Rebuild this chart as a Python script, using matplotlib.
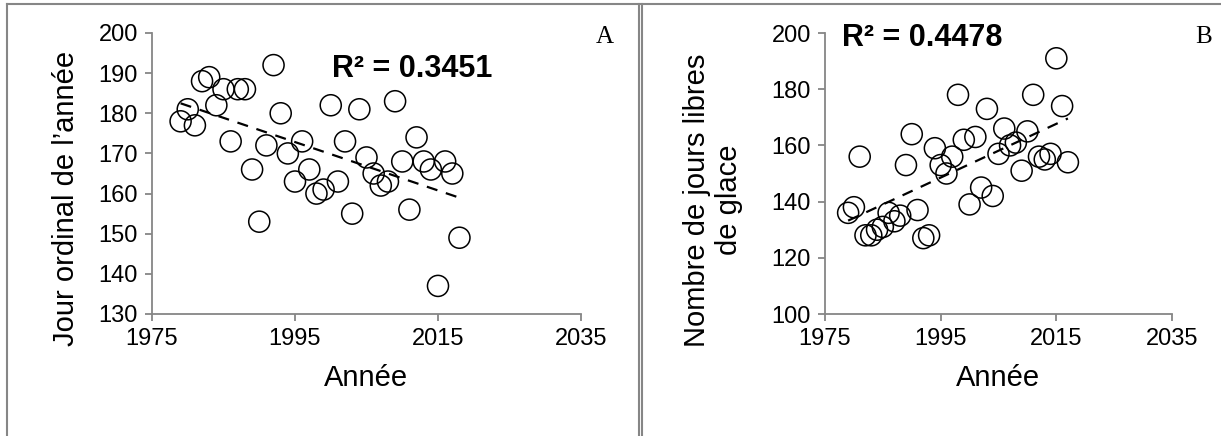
import matplotlib
matplotlib.use("Agg")
import matplotlib.pyplot as plt
from matplotlib.lines import Line2D
import numpy as np

plt.rcParams['font.family'] = ['Liberation Sans', 'DejaVu Sans']

# panel A : jour ordinal (debacle)
years_a = list(range(1979, 2019))
jour_a = [178, 181, 177, 188, 189, 182, 186, 173, 186, 186,
          166, 153, 172, 192, 180, 170, 163, 173, 166, 160,
          161, 182, 163, 173, 155, 181, 169, 165, 162, 163,
          183, 168, 156, 174, 168, 166, 137, 168, 165, 149]

# panel B : nombre de jours libres de glace
years_b = list(range(1979, 2018))
libres_b = [136, 138, 156, 128, 128, 130, 131, 136, 133, 135,
            153, 164, 137, 127, 128, 159, 153, 150, 156, 178,
            162, 139, 163, 145, 173, 142, 157, 166, 160, 161,
            151, 165, 178, 156, 155, 157, 191, 174, 154]

xticks = [1975, 1995, 2015, 2035]
r2_a = "R² = 0.3451"
r2_b = "R² = 0.4478"

W, H = 1221, 436
fig = plt.figure(figsize=(W/100, H/100), dpi=100)

gray = '#868686'

def make_ax(rect, x, y, ylim, yticks):
    ax = fig.add_axes(rect)
    ax.scatter(x, y, s=230, facecolors='none', edgecolors='black', linewidths=1.1, zorder=3)
    # tendance lineaire
    p = np.polyfit(x, y, 1)
    xx = np.array([min(x), max(x)])
    ax.plot(xx, np.polyval(p, xx), color='black', lw=1.6, ls=(0, (5, 4)), zorder=2)
    ax.set_xlim(1975, 2035)
    ax.set_ylim(*ylim)
    ax.set_xticks(xticks)
    ax.set_yticks(yticks)
    for s in ['top', 'right']:
        ax.spines[s].set_visible(False)
    for s in ['left', 'bottom']:
        ax.spines[s].set_color(gray)
        ax.spines[s].set_linewidth(1.3)
    ax.tick_params(direction='out', length=5, width=1.3, color=gray, labelsize=17, pad=5)
    ax.patch.set_alpha(0)
    return ax

ax1 = make_ax([152/W, 1-314/H, 429/W, 281/H], years_a, jour_a, (130, 200), range(130, 201, 10))
ax2 = make_ax([825/W, 1-314/H, 347/W, 281/H], years_b, libres_b, (100, 200), range(100, 201, 20))

# titres des axes
fig.text(366/W, 1-378/H, "Année", fontsize=21, ha='center', va='center')
fig.text(998/W, 1-378/H, "Année", fontsize=21, ha='center', va='center')
fig.text(66/W, 1-198/H, "Jour ordinal de l’année", fontsize=21, rotation=90, ha='center', va='center')
fig.text(713/W, 1-200/H, "Nombre de jours libres\nde glace", fontsize=21, rotation=90,
         ha='center', va='center', multialignment='center', linespacing=1.15)

# R2
fig.text(332/W, 1-69/H, r2_a, fontsize=22, fontweight='bold', ha='left', va='center')
fig.text(842/W, 1-38/H, r2_b, fontsize=22, fontweight='bold', ha='left', va='center')

# lettres des panneaux
fig.text(605/W, 1-37/H, "A", fontsize=18, family='Liberation Serif', ha='center', va='center')
fig.text(1204/W, 1-37/H, "B", fontsize=18, family='Liberation Serif', ha='center', va='center')

# cadre du tableau
def fline(x0, y0, x1, y1):
    fig.add_artist(Line2D([x0/W, x1/W], [1-y0/H, 1-y1/H], color=gray, lw=1.5))

fline(7, 4, W, 4)
fline(7, 4, 7, H)
fline(639, 4, 639, H)
fline(642, 4, 642, H)

fig.savefig("out.png", dpi=100)
